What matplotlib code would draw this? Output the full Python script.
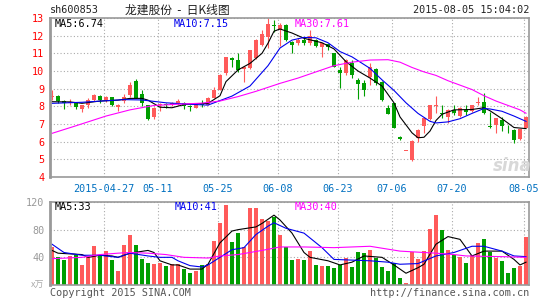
import numpy as np
import matplotlib.pyplot as plt

# daily candles, index 0 = 2015-04-14 ... 79 = 2015-08-05
opens = [8.55, 8.58, 8.30, 8.17, 8.20, 7.85, 8.10, 8.35, 8.58, 8.35,
         8.50, 7.98, 8.30, 8.62, 9.43, 8.72, 8.07, 7.40, 8.05, 8.12,
         8.08, 8.15, 8.20, 8.00, 7.92, 8.20, 8.07, 8.50, 8.92, 9.87,
         10.72, 10.60, 10.10, 10.15, 10.75, 11.47, 11.95, 12.58, 12.30, 12.60,
         11.66, 11.60, 11.75, 11.60, 11.75, 11.38, 11.50, 11.00, 10.06, 9.87,
         10.47, 9.49, 9.30, 9.64, 10.10, 9.40, 7.90, 8.17, 6.28, 5.50,
         4.96, 6.20, 6.90, 7.26, 8.00, 7.60, 7.42, 7.80, 7.45, 7.80,
         7.75, 8.17, 8.23, 6.85, 6.94, 7.23, 6.72, 6.66, 6.15, 6.80]
highs = [8.90, 8.62, 8.35, 8.40, 8.25, 8.10, 8.45, 8.70, 8.62, 8.60,
         8.55, 8.12, 8.70, 9.38, 9.55, 8.92, 8.10, 7.95, 8.20, 8.20,
         8.22, 8.40, 8.25, 8.10, 8.20, 8.35, 8.55, 9.10, 9.85, 10.80,
         10.80, 11.00, 10.30, 11.20, 11.80, 12.30, 13.00, 12.90, 12.70, 12.65,
         11.70, 11.88, 11.85, 12.30, 11.80, 11.60, 11.50, 11.00, 10.20, 10.68,
         10.60, 9.60, 9.50, 10.43, 10.17, 9.45, 8.10, 8.20, 6.32, 5.50,
         6.10, 6.70, 7.40, 8.10, 8.58, 8.10, 7.85, 8.05, 7.95, 8.05,
         8.10, 8.55, 8.75, 7.70, 7.35, 7.40, 6.95, 6.70, 6.72, 7.45]
lows = [8.35, 8.20, 7.85, 8.05, 7.85, 7.70, 7.90, 8.30, 8.20, 8.25,
        8.00, 7.75, 8.20, 8.55, 8.45, 8.00, 7.22, 7.30, 7.75, 7.90,
        8.02, 8.10, 7.85, 7.75, 7.90, 7.95, 8.05, 8.45, 8.90, 9.80,
        10.25, 9.95, 9.40, 10.10, 10.70, 11.40, 11.30, 12.20, 11.40, 11.70,
        11.00, 11.50, 11.45, 11.45, 11.35, 10.80, 11.20, 10.20, 9.05, 9.80,
        9.60, 8.40, 8.60, 9.20, 9.20, 8.30, 7.55, 6.75, 6.08, 5.50,
        4.92, 6.00, 6.50, 7.20, 7.60, 7.35, 7.05, 7.50, 7.40, 7.50,
        7.70, 8.05, 7.55, 6.80, 6.50, 6.60, 6.50, 5.95, 6.10, 6.75]
closes = [8.60, 8.30, 8.18, 8.25, 7.95, 8.05, 8.35, 8.62, 8.35, 8.52,
          8.10, 8.08, 8.55, 9.20, 8.50, 8.20, 7.28, 7.90, 8.15, 8.10,
          8.17, 8.28, 8.02, 7.95, 8.15, 8.05, 8.45, 8.92, 9.80, 10.77,
          10.60, 10.05, 10.25, 11.20, 11.75, 12.08, 12.66, 12.52, 12.60, 11.75,
          11.47, 11.78, 11.60, 11.98, 11.40, 11.57, 11.34, 10.20, 9.87, 10.62,
          9.77, 9.26, 8.95, 10.25, 9.30, 8.36, 7.57, 6.75, 6.13, 5.50,
          6.05, 6.66, 7.32, 8.08, 8.10, 7.58, 7.80, 7.62, 7.88, 7.70,
          8.08, 8.26, 7.60, 6.82, 7.32, 6.89, 6.70, 6.10, 6.70, 7.42]
volumes = [55, 40, 36, 42, 44, 29, 42, 56, 42, 49,
           36, 20, 58, 73, 58, 37, 32, 30, 32, 28,
           30, 31, 23, 17, 20, 29, 31, 63, 89, 116,
           62, 75, 55, 111, 112, 95, 92, 99, 73, 55,
           36, 37, 36, 49, 29, 28, 28, 24, 29, 39,
           26, 48, 46, 50, 39, 26, 20, 32, 10, 3,
           48, 38, 49, 81, 101, 79, 51, 43, 40, 32,
           44, 61, 67, 48, 39, 35, 18, 25, 28, 70]

# moving averages
ma5_idx = [0, 3, 5, 8, 11, 13, 15, 16, 18, 20, 22, 24, 26, 28, 29, 31, 33, 35, 36, 37, 38,
           40, 42, 45, 47, 49, 51, 53, 55, 57, 58, 60, 61, 62, 63, 64, 65, 67, 70, 72, 73, 75, 77, 79]
ma5_val = [8.26, 8.25, 8.17, 8.30, 8.35, 8.45, 8.45, 8.35, 7.95, 7.92, 8.10, 8.15, 8.17, 8.60, 9.40,
           10.06, 10.43, 11.00, 11.57, 12.25, 12.38, 12.15, 11.85, 11.60, 11.25, 10.53, 10.00, 9.60,
           9.15, 8.20, 7.40, 6.50, 6.22, 6.25, 6.60, 7.20, 7.55, 7.80, 7.82, 7.92, 7.75, 7.30, 6.80, 6.74]
ma10_idx = [0, 5, 12, 15, 19, 24, 26, 30, 33, 36, 38, 40, 42, 44, 46, 48, 50, 53, 55, 57,
            59, 61, 63, 64, 66, 68, 70, 72, 73, 75, 77, 79]
ma10_val = [8.17, 8.23, 8.38, 8.36, 8.20, 8.10, 8.07, 8.58, 9.15, 10.30, 11.30, 11.75, 11.90,
            11.88, 11.60, 11.10, 10.80, 10.15, 9.50, 8.90, 8.20, 7.60, 7.15, 7.06, 7.12, 7.30,
            7.60, 7.88, 7.85, 7.72, 7.45, 7.15]
ma30_idx = [0, 4, 9, 13, 17, 21, 25, 28, 31, 34, 38, 41, 44, 47, 50, 53, 56, 58, 60, 62,
            64, 66, 68, 70, 72, 74, 76, 78, 79]
ma30_val = [6.47, 6.90, 7.45, 7.80, 8.05, 8.12, 8.18, 8.30, 8.55, 8.85, 9.30, 9.60, 9.95,
            10.30, 10.50, 10.62, 10.64, 10.50, 10.20, 9.95, 9.75, 9.45, 9.20, 8.95, 8.60,
            8.30, 8.05, 7.80, 7.61]

vma5_idx = [0, 1, 5, 6, 8, 10, 11, 13, 16, 17, 18, 20, 21, 23, 25, 26, 28, 30, 31, 34, 35, 37,
            38, 40, 42, 43, 46, 48, 50, 52, 55, 57, 59, 61, 62, 64, 66, 68, 70, 72, 75, 77, 78, 79]
vma5_val = [50, 46, 44, 40, 43, 42, 40, 46, 50, 47, 35, 29, 29, 23, 23, 30, 61, 78, 80, 84, 89,
            101, 94, 75, 47, 40, 35, 29, 33, 42, 40, 29, 17, 25, 30, 59, 70, 66, 42, 49, 49,
            37, 29, 33]
vma10_idx = [0, 2, 5, 8, 11, 13, 16, 18, 20, 21, 23, 25, 26, 28, 30, 32, 34, 36, 37, 39,
             42, 45, 47, 50, 53, 56, 58, 61, 64, 67, 70, 72, 75, 77, 79]
vma10_val = [59, 47, 43, 43, 40, 46, 42, 40, 40, 35, 28, 26, 29, 40, 51, 54, 73, 85, 90, 82,
             75, 54, 37, 36, 35, 33, 30, 31, 42, 47, 56, 56, 49, 42, 41]
vma30_idx = [0, 5, 8, 11, 13, 16, 19, 22, 26, 28, 31, 35, 38, 42, 47, 53, 58, 64, 67, 69, 75, 79]
vma30_val = [38, 40, 44, 46, 47, 46, 44, 40, 39, 42, 44, 50, 55, 55, 54, 56, 49, 46, 44, 42, 41, 40]

date_idx = [9, 18, 28, 38, 48, 57, 67, 79]
date_labels = ['2015-04-27', '05-11', '05-25', '06-08', '06-23', '07-06', '07-20', '08-05']

RED = '#ff5a5a'
GREEN = '#009e00'
FRAME = '#999999'
GRID = '#aaaaaa'
MONO = 'DejaVu Sans Mono'
FS = 7.3

n = len(closes)
x = np.arange(n)
o = np.array(opens)
c = np.array(closes)
up = c >= o
cols = np.where(up, RED, GREEN)

fig = plt.figure(figsize=(5.45, 3.0), dpi=100)
W, H = 545.0, 300.0
ax = fig.add_axes([50 / W, 1 - 177 / H, 479 / W, 159 / H])
axv = fig.add_axes([50 / W, 1 - 285 / H, 479 / W, 83 / H])

for a in (ax, axv):
    a.set_xlim(-0.33, 79.5)
    for s in a.spines.values():
        s.set_color(FRAME)
        s.set_linewidth(1.2)
    a.spines['left'].set_linewidth(2)
    a.set_xticks([d - 0.4 for d in date_idx])
    a.grid(True, color=GRID, linestyle=(0, (1, 2)), linewidth=0.8)
    a.set_axisbelow(True)
    a.tick_params(length=0)

# candles
ax.vlines(x, lows, highs, colors=cols, linewidth=0.8)
body = np.maximum(np.abs(c - o), 0.04)
ax.bar(x, body, bottom=np.minimum(o, c), width=0.8, color=cols, linewidth=0)
ax.plot(ma5_idx, ma5_val, color='black', lw=0.8)
ax.plot(ma10_idx, ma10_val, color='#0000ee', lw=0.8)
ax.plot(ma30_idx, ma30_val, color='#ff00ff', lw=0.8)
ax.set_ylim(4, 13)
ax.set_yticks(range(4, 14))
ax.set_yticklabels([str(v) for v in range(4, 14)], color='red', family=MONO, fontsize=FS)
ax.set_xticklabels(date_labels, color='#0070c0', family=MONO, fontsize=FS)
ax.tick_params(axis='x', pad=5)
ax.tick_params(axis='y', pad=4)

# volume
axv.bar(x, volumes, width=0.8, color=cols, linewidth=0)
axv.plot(vma5_idx, vma5_val, color='black', lw=0.8)
axv.plot(vma10_idx, vma10_val, color='#0000ee', lw=0.8)
axv.plot(vma30_idx, vma30_val, color='#ff00ff', lw=0.8)
axv.set_ylim(0, 120)
axv.set_yticks([40, 80, 120])
axv.set_yticklabels(['40', '80', '120'], color='#999999', family=MONO, fontsize=FS)
axv.tick_params(axis='y', pad=4)
axv.set_xticklabels([])

# texts
def px(xp, yp, s, **kw):
    fig.text(xp / W, 1 - yp / H, s, **kw)

px(50, 10, 'sh600853', family=MONO, fontsize=FS, va='center', color='#222222')
px(177, 10, '龙建股份  -  日K线图', family=['Noto Sans CJK SC', 'DejaVu Sans'],
   fontsize=8.5, va='center', ha='center', color='#222222')
px(529, 10, '2015-08-05 15:04:02', family=MONO, fontsize=FS, va='center', ha='right',
   color='#222222')
px(55, 24, 'MA5:6.74', family=MONO, fontsize=FS, va='center', color='black')
px(174, 24, 'MA10:7.15', family=MONO, fontsize=FS, va='center', color='#0000ee')
px(295, 24, 'MA30:7.61', family=MONO, fontsize=FS, va='center', color='#ff00ff')
px(55, 207, 'MA5:33', family=MONO, fontsize=FS, va='center', color='black')
px(175, 207, 'MA10:41', family=MONO, fontsize=FS, va='center', color='#0000ee')
px(295, 207, 'MA30:40', family=MONO, fontsize=FS, va='center', color='#ff00ff')
px(44, 285, 'x万', family=['Noto Sans CJK SC', 'DejaVu Sans'], fontsize=6.5, va='center',
   ha='right', color='#aaaaaa')
px(50, 293, 'Copyright 2015 SINA.COM', family=MONO, fontsize=FS, va='center', color='#555555')
px(529, 293, 'http://finance.sina.com.cn', family=MONO, fontsize=FS, va='center',
   ha='right', color='#555555')
px(512, 166, 'sina', fontsize=12, fontweight='bold', style='italic', va='center',
   ha='center', color='#d8d8d8')

fig.savefig('out.png', dpi=100)
